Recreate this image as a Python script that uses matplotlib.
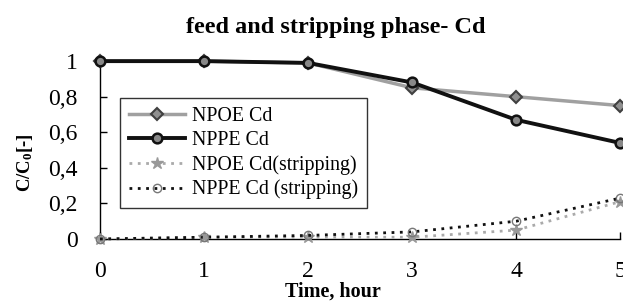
import matplotlib

matplotlib.use("Agg")
import matplotlib.pyplot as plt  # noqa: E402

plt.rcParams["font.family"] = ["Liberation Serif", "DejaVu Serif"]
plt.rcParams["mathtext.fontset"] = "custom"
plt.rcParams["mathtext.rm"] = "Liberation Serif"
plt.rcParams["mathtext.bf"] = "Liberation Serif:bold"

time_h = [0, 1, 2, 3, 4, 5]
npoe_cd = [1.0, 1.0, 0.99, 0.85, 0.80, 0.75]
nppe_cd = [1.0, 1.0, 0.99, 0.88, 0.67, 0.54]
npoe_strip = [0.0, 0.01, 0.01, 0.01, 0.05, 0.21]
nppe_strip = [0.0, 0.01, 0.02, 0.04, 0.10, 0.23]

yticks = [0, 0.2, 0.4, 0.6, 0.8, 1]
ytick_labels = ["0", "0,2", "0,4", "0,6", "0,8", "1"]

fig = plt.figure(figsize=(6.23, 3.02), dpi=100)
ax = fig.add_axes([0.1605, 0.2086, 0.835, 0.589])

ax.plot(time_h, npoe_cd, color="#a0a0a0", lw=2.5, marker="D", ms=6,
        mfc="#909090", mec="#404040", mew=1.5, label="NPOE Cd", clip_on=False, zorder=3)
ax.plot(time_h, nppe_cd, color="#111111", lw=2.8, marker="o", ms=7,
        mfc="#888888", mec="#111111", mew=1.8, label="NPPE Cd", clip_on=False, zorder=4)
ax.plot(time_h, npoe_strip, color="#aaaaaa", lw=2, ls=(0, (1, 2)), marker="*", ms=9,
        mfc="#999999", mec="#999999", label="NPOE Cd(stripping)", clip_on=False, zorder=3)
ax.plot(time_h, nppe_strip, color="#111111", lw=2, ls=(0, (1, 2)), marker="o", ms=6,
        mfc="none", mec="#777777", mew=1, label="NPPE Cd (stripping)", clip_on=False, zorder=3)

ax.set_xlim(0, 5)
ax.set_ylim(0, 1)
ax.set_xticks(time_h)
ax.set_yticks(yticks)
ax.set_yticklabels(ytick_labels)
ax.tick_params(labelsize=17, direction="in", length=5, width=1)
ax.tick_params(axis="y", pad=16)
ax.tick_params(axis="x", pad=16)
for side in ("top", "right"):
    ax.spines[side].set_visible(False)
for side in ("left", "bottom"):
    ax.spines[side].set_linewidth(1)

ax.set_xlabel("Time, hour", fontsize=14.5, fontweight="bold")
ax.xaxis.set_label_coords(0.4485, -0.24)
ax.set_ylabel(r"$\mathbf{C/C_0}$[-]", fontsize=13.5, fontweight="bold")
ax.yaxis.set_label_coords(-0.125, 0.43)
fig.text(336 / 623, 1 - 27 / 302, "feed and stripping phase- Cd", fontsize=17.5,
         fontweight="bold", ha="center", va="center")

leg = ax.legend(loc="upper left", bbox_to_anchor=(0.0385, 0.795), fontsize=14.3,
                frameon=True, fancybox=False, edgecolor="black", handlelength=2.8,
                handletextpad=0.35, labelspacing=0.26, borderpad=0.45, borderaxespad=0)
leg.get_frame().set_linewidth(1)

fig.savefig("out.png", dpi=100)
